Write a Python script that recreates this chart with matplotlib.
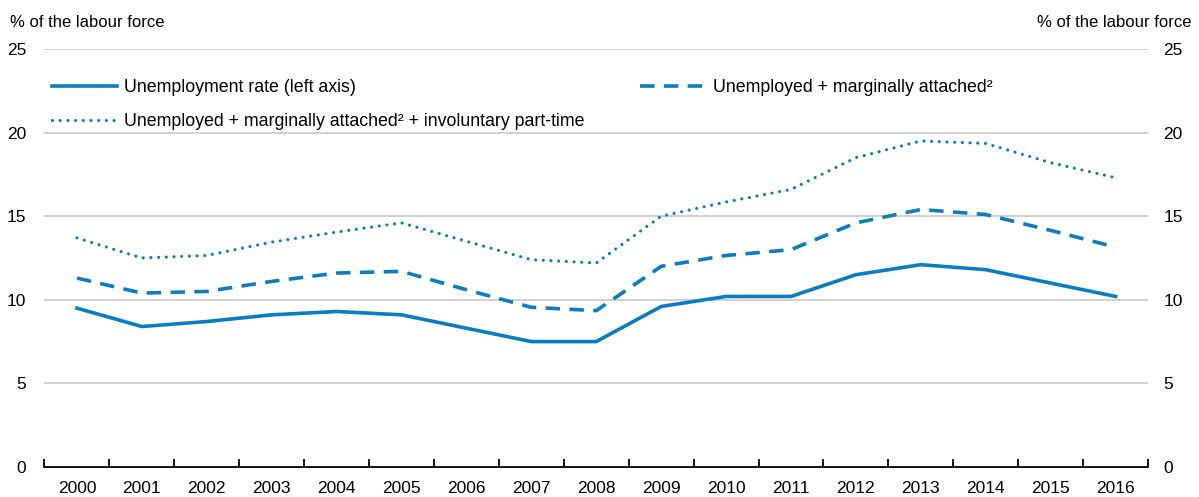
import numpy as np
import matplotlib
matplotlib.use("Agg")
import matplotlib.pyplot as plt

plt.rcParams['font.family'] = ['Liberation Sans', 'DejaVu Sans']

years = [str(y) for y in range(2000, 2017)]
unemp = [9.5, 8.4, 8.7, 9.1, 9.3, 9.1, 8.3, 7.5, 7.5, 9.6, 10.2, 10.2, 11.5, 12.1, 11.8, 11.0, 10.2]
unemp_ma = [11.3, 10.4, 10.5, 11.1, 11.6, 11.7, 10.6, 9.55, 9.35, 12.0, 12.65, 13.0, 14.6, 15.4, 15.1, 14.15, 13.15]
unemp_ma_pt = [13.7, 12.5, 12.65, 13.45, 14.05, 14.6, 13.5, 12.4, 12.2, 15.0, 15.85, 16.6, 18.5, 19.5, 19.35, 18.2, 17.3]
yticks = [0, 5, 10, 15, 20, 25]

blue = '#0a7dc2'
fig = plt.figure(figsize=(11.99, 4.97), dpi=100)
ax = fig.add_axes([0.0371, 0.0604, 0.9204, 0.841])
x = np.arange(len(years))

for v in yticks[1:]:
    ax.axhline(v, color='#c8c8c8', lw=1.2, zorder=1)

l1, = ax.plot(x, unemp, color=blue, lw=2.6, solid_joinstyle='round', label='Unemployment rate (left axis)', zorder=3)
l2, = ax.plot(x, unemp_ma, color=blue, lw=2.6, ls=(0, (4, 2.6)), dash_capstyle='butt',
              label='Unemployed + marginally attached²', zorder=3)
l3, = ax.plot(x, unemp_ma_pt, color=blue, lw=2.3, ls=(0, (0.01, 2.4)), dash_capstyle='round',
              label='Unemployed + marginally attached² + involuntary part-time', zorder=3)

ax.set_xlim(-0.5, len(years) - 0.5)
ax.set_ylim(0, 25)
ax.set_xticks(x)
ax.set_xticklabels(years, fontsize=12.5)
ax.set_xticks(np.arange(-0.5, len(years)), minor=True)
ax.tick_params(axis='x', which='major', length=0, pad=10)
ax.tick_params(axis='x', which='minor', direction='in', length=6, width=1.3, color='black')
ax.set_yticks(yticks)
ax.tick_params(axis='y', length=0, labelsize=12.5, pad=13)
for s in ['top', 'left', 'right']:
    ax.spines[s].set_visible(False)
ax.spines['bottom'].set_linewidth(1.3)

ax2 = ax.twinx()
ax2.set_ylim(0, 25)
ax2.set_yticks(yticks)
ax2.tick_params(axis='y', length=0, labelsize=12.5, pad=11)
for s in ax2.spines.values():
    s.set_visible(False)

fig.text(0.008, 0.955, '% of the labour force', fontsize=12, ha='left', va='center')
fig.text(0.994, 0.955, '% of the labour force', fontsize=12, ha='right', va='center')

ax.legend([l1, l3, l2], [l1.get_label(), l3.get_label(), l2.get_label()], ncol=2,
          loc='upper left', bbox_to_anchor=(0.0, 0.945), frameon=False, fontsize=12.8,
          handlelength=3.7, handletextpad=0.4, columnspacing=3.1, borderaxespad=0,
          labelspacing=0.95)

fig.savefig('out.png', dpi=100)
